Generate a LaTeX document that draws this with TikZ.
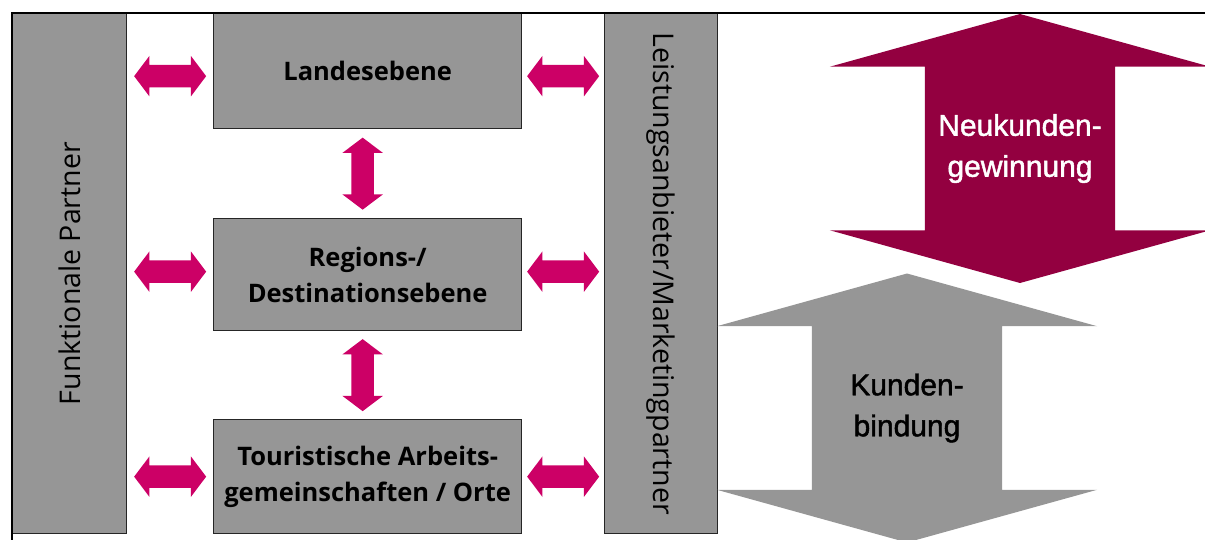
\documentclass[tikz,border=0pt]{standalone}
\usepackage{fontspec}
\setmainfont{Open Sans}
\newfontfamily\arrowfont[UprightFeatures={FakeBold=1.5}]{Liberation Sans}
\usetikzlibrary{shapes.arrows,calc}
\definecolor{boxgray}{RGB}{150,150,150}
\definecolor{linkpink}{RGB}{204,0,102}
\definecolor{winred}{RGB}{147,0,64}
\begin{document}
\begin{tikzpicture}[x=1pt,y=-1pt,
      box/.style={draw=black!85, line width=1.3pt, fill=boxgray, inner sep=0pt,
        align=center, font=\fontsize{25.5}{36}\selectfont\bfseries},
      bar/.style={box},
      barlabel/.style={font=\fontsize{28.5}{32}\selectfont},
      link/.style={double arrow, fill=linkpink, inner sep=11pt,
        minimum height=72pt, minimum width=40pt,
        double arrow head extend=9pt, double arrow tip angle=106},
      bigarrow/.style={double arrow, inner sep=95pt, rotate=90,
        minimum height=269pt, minimum width=380pt,
        double arrow head extend=95pt, double arrow tip angle=149},
      bigtext/.style={align=center, font=\arrowfont\fontsize{30}{41}\selectfont}
    ]
    \useasboundingbox (0,0) rectangle (1205,540);
    % partner bars
    \node[bar, anchor=north west, minimum width=114pt, minimum height=520pt]
      (fp) at (12,13) {};
    \node[barlabel, rotate=90] at (fp.center) {Funktionale Partner};
    \node[bar, anchor=north west, minimum width=113pt, minimum height=520pt]
      (lp) at (604,13) {};
    \node[barlabel, rotate=-90] at (lp.center) {Leistungsanbieter/Marketingpartner};
    % levels
    \node[box, anchor=north west, minimum width=308pt, minimum height=115pt]
      (land) at (213,13) {Landesebene};
    \node[box, anchor=north west, minimum width=308pt, minimum height=112pt]
      (reg) at (213,218) {Regions-/\\Destinationsebene};
    \node[box, anchor=north west, minimum width=308pt, minimum height=114pt]
      (ort) at (213,419) {Touristische Arbeits-\\gemeinschaften / Orte};
    % frame
    \draw[line width=2.4pt] (1205,13) -- (12,13) -- (12,540);
    % links
    \foreach \lvl/\dy in {land/-5,reg/3,ort/0}{
      \node[link, yshift=\dy pt] at ($(fp.east |- \lvl.center)!0.5!(\lvl.west)$) {};
      \node[link, yshift=\dy pt] at ($(\lvl.east)!0.5!(lp.west |- \lvl.center)$) {};
    }
    \node[link, xshift=-5pt, rotate=90] at ($(land.south)!0.5!(reg.north)$) {};
    \node[link, xshift=-5pt, rotate=90] at ($(reg.south)!0.5!(ort.north)$) {};
    % customer arrows
    \node[bigarrow, fill=winred] (neu) at (1020,148.5) {};
    \node[bigtext, text=white] at (neu.center) {Neukunden-\\gewinnung};
    \node[bigarrow, fill=boxgray] (bind) at (907,408) {};
    \node[bigtext] at (bind.center) {Kunden-\\bindung};
\end{tikzpicture}
\end{document}
